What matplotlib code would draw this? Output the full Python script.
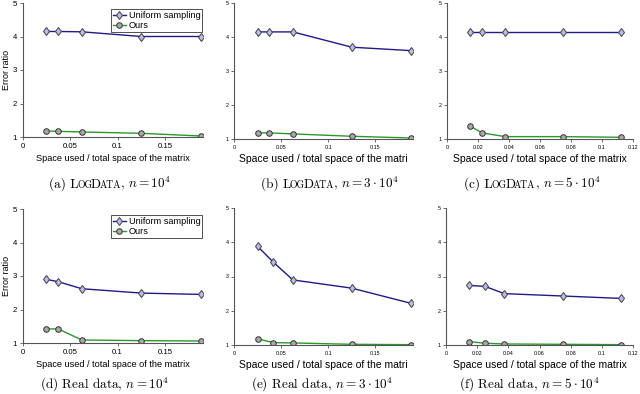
import matplotlib
matplotlib.use("Agg")
import matplotlib.pyplot as plt

plt.rcParams['font.family'] = ['Liberation Sans', 'DejaVu Sans']
plt.rcParams['mathtext.fontset'] = 'cm'

# x positions (fraction of matrix space)
x_wide = [0.025, 0.0375, 0.0625, 0.125, 0.1875]
x_wide_e = [0.025, 0.0417, 0.0625, 0.125, 0.1875]
x_narrow = [0.015, 0.0225, 0.0375, 0.075, 0.1125]
x_narrow_f = [0.015, 0.025, 0.0375, 0.075, 0.1125]

# error ratios
uniform_a = [4.15, 4.15, 4.14, 4.00, 4.00]
ours_a = [1.18, 1.17, 1.15, 1.11, 1.03]
uniform_b = [4.15, 4.15, 4.15, 3.70, 3.60]
ours_b = [1.18, 1.18, 1.15, 1.08, 1.03]
uniform_c = [4.15, 4.15, 4.15, 4.15, 4.15]
ours_c = [1.38, 1.18, 1.07, 1.07, 1.05]
uniform_d = [2.90, 2.83, 2.62, 2.49, 2.45]
ours_d = [1.42, 1.42, 1.09, 1.07, 1.06]
uniform_e = [3.88, 3.42, 2.90, 2.66, 2.22]
ours_e = [1.18, 1.07, 1.06, 1.02, 1.01]
uniform_f = [2.74, 2.71, 2.50, 2.43, 2.36]
ours_f = [1.10, 1.05, 1.03, 1.02, 1.01]

xlabel_full = 'Space used / total space of the matrix'
xlabel_cut = 'Space used / total space of the matri'

W, H = 640, 394
fig = plt.figure(figsize=(6.4, 3.94), dpi=100)

BLUE = '#1c1c8a'
GREEN = '#2b982b'
AXC = '#555555'


def px_ax(l, t, r, b):
    return fig.add_axes([l / W, 1 - b / H, (r - l) / W, (b - t) / H])


def draw_panel(ax, x, uni, ours, xmax, xticks, tick_fs, xlabel, xl_fs, legend, ylabel):
    ax.plot(x, uni, '-', color=BLUE, lw=1.0, marker='d', ms=4.5,
            mfc='#b8bce6', mec='#444444', mew=0.7, label='Uniform sampling')
    ax.plot(x, ours, '-', color=GREEN, lw=1.0, marker='o', ms=4,
            mfc='#a9a9a9', mec='#333333', mew=0.7, label='Ours')
    ax.set_xlim(0, xmax)
    ax.set_ylim(1, 5)
    ax.set_xticks(xticks)
    ax.set_xticklabels([('%g' % t) for t in xticks])
    ax.set_yticks([1, 2, 3, 4, 5])
    for s in ['top', 'right']:
        ax.spines[s].set_visible(False)
    for s in ['left', 'bottom']:
        ax.spines[s].set_color(AXC)
        ax.spines[s].set_linewidth(0.8)
    ax.tick_params(direction='out', length=2, width=0.6, color=AXC,
                   labelsize=tick_fs, pad=2)
    ax.set_xlabel(xlabel, fontsize=xl_fs, labelpad=3)
    if ylabel:
        ax.set_ylabel('Error ratio', fontsize=6.5, labelpad=1)
    if legend:
        leg = ax.legend(loc='upper right', bbox_to_anchor=(0.995, 0.955),
                        borderaxespad=0, fontsize=6.6, frameon=True,
                        fancybox=False, handlelength=1.4, handletextpad=0.3,
                        borderpad=0.2, labelspacing=0.15)
        leg.get_frame().set_edgecolor('black')
        leg.get_frame().set_linewidth(0.6)


def caption(xc, y, pieces, size=9.5, kern=-1.0):
    # pieces of (text, size factor) laid side by side on one baseline
    r = fig.canvas.get_renderer()
    texts = []
    for s, k in pieces:
        t = fig.text(0, 1 - y / H, s, fontsize=size * k, family='cmr10',
                     va='baseline', ha='left')
        texts.append(t)
    widths = [t.get_window_extent(r).width for t in texts]
    total = sum(widths) + kern * (len(texts) - 1)
    x0 = xc - total / 2
    for t, w in zip(texts, widths):
        t.set_x(x0 / W)
        x0 += w + kern


wide_ticks = [0, 0.05, 0.1, 0.15]
narrow_ticks = [0, 0.02, 0.04, 0.06, 0.08, 0.1, 0.12]

ax_a = px_ax(22.5, 3, 203, 137)
draw_panel(ax_a, x_wide, uniform_a, ours_a, 0.19, wide_ticks, 5.6, xlabel_full, 6.6, True, True)
ax_b = px_ax(234, 3, 413, 139)
draw_panel(ax_b, x_wide, uniform_b, ours_b, 0.19, wide_ticks, 3.9, xlabel_cut, 7.5, False, False)
ax_c = px_ax(447, 3, 633, 139)
draw_panel(ax_c, x_narrow, uniform_c, ours_c, 0.12, narrow_ticks, 3.9, xlabel_full, 7.5, False, False)
ax_d = px_ax(22.5, 209, 203, 343)
draw_panel(ax_d, x_wide, uniform_d, ours_d, 0.19, wide_ticks, 5.6, xlabel_full, 6.6, True, True)
ax_e = px_ax(234, 208, 413, 345)
draw_panel(ax_e, x_wide_e, uniform_e, ours_e, 0.19, wide_ticks, 3.9, xlabel_cut, 7.5, False, False)
ax_f = px_ax(446, 208, 633, 345)
draw_panel(ax_f, x_narrow_f, uniform_f, ours_f, 0.12, narrow_ticks, 3.9, xlabel_full, 7.5, False, False)

sc = 0.74
caption(110, 187.5, [('(a) L', 1), ('OG', sc), ('D', 1), ('ATA', sc), (r', $n = 10^4$', 1)])
caption(330, 187.5, [('(b) L', 1), ('OG', sc), ('D', 1), ('ATA', sc), (r', $n = 3\cdot10^4$', 1)])
caption(532, 187.5, [('(c) L', 1), ('OG', sc), ('D', 1), ('ATA', sc), (r', $n = 5\cdot10^4$', 1)])
caption(104, 388.5, [(r'(d) Real data, $n = 10^4$', 1)])
caption(322, 388.5, [(r'(e) Real data, $n = 3\cdot10^4$', 1)])
caption(529, 388.5, [(r'(f) Real data, $n = 5\cdot10^4$', 1)])

fig.savefig('out.png', dpi=100)
